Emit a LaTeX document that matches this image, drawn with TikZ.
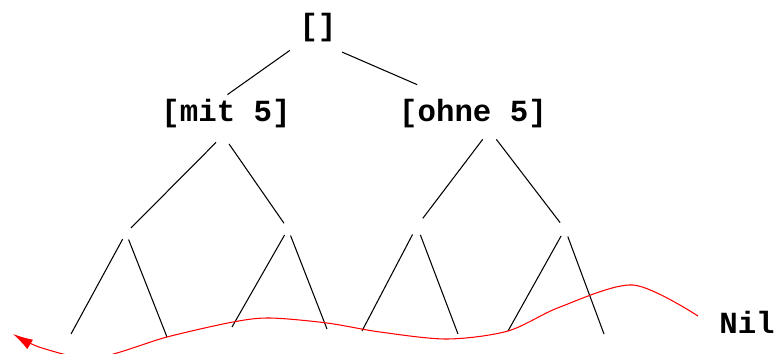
\documentclass[tikz,border=0pt]{standalone}
\usepackage{fontspec}
\setmonofont{Liberation Mono}
\usetikzlibrary{arrows.meta}

\begin{document}
\begin{tikzpicture}[x=0.02cm, y=-0.02cm, line width=0.6pt,
    label/.style = {font=\ttfamily\bfseries\fontsize{17.5}{20}\selectfont, inner sep=2pt},
    knot/.style = {circle, inner sep=0pt, minimum size=#1},
    knot/.default = {0.26cm}]

    \useasboundingbox (0,0) rectangle (779,353);

    \node[label] (root) at (318,28) {[]};
    \node[label] (mit) at (226,114) {[mit 5]};
    \node[label] (ohne) at (473,114) {[ohne 5]};
    \node[label] (nil) at (747,322) {Nil};

    \node[knot] (a) at (126,233) {};
    \node[knot] (b) at (288,229) {};
    \node[knot=0.36cm] (c) at (417,226) {};
    \node[knot=0.3cm] (d) at (565,229) {};

    \coordinate (l1) at (71,334);
    \coordinate (l2) at (167,337);
    \coordinate (l3) at (232,327);
    \coordinate (l4) at (327,329);
    \coordinate (l5) at (362,331);
    \coordinate (l6) at (458,334);
    \coordinate (l7) at (508,331);
    \coordinate (l8) at (604,334);

    \draw[shorten <=4pt, shorten >=1pt] (root.south west) -- (mit.north);
    \draw[shorten <=1pt] ([yshift=-0.1cm]root.south east) -- ([shift={(0.44cm,0.22cm)}]ohne.north west);
    \draw[shorten <=8pt] (mit.south) -- (a);
    \draw[shorten <=8pt] ([xshift=-0.1cm]mit.south) -- (b);
    \draw[shorten <=5pt] ([xshift=0.3cm]ohne.south) -- (c);
    \draw[shorten <=5pt] ([xshift=0.36cm]ohne.south) -- (d);

    \draw (a) -- (l1);
    \draw (a) -- (l2);
    \draw (b) -- (l3);
    \draw (b) -- (l4);
    \draw (c) -- (l5);
    \draw (c) -- (l6);
    \draw (d) -- (l7);
    \draw (d) -- (l8);

    % Weg durch die Blaetter
    \coordinate (start) at (698,316);
    \coordinate (tip) at (13,334);
    \draw[red, -{Latex[length=0.4cm, width=0.22cm]}] plot[smooth] coordinates {(start) (633,285) (560,307) (508,331) (447,339) (380,332) (327,323) (270,318) (233,322) (167,337) (95,358) (42,348) (tip)};

\end{tikzpicture}
\end{document}
